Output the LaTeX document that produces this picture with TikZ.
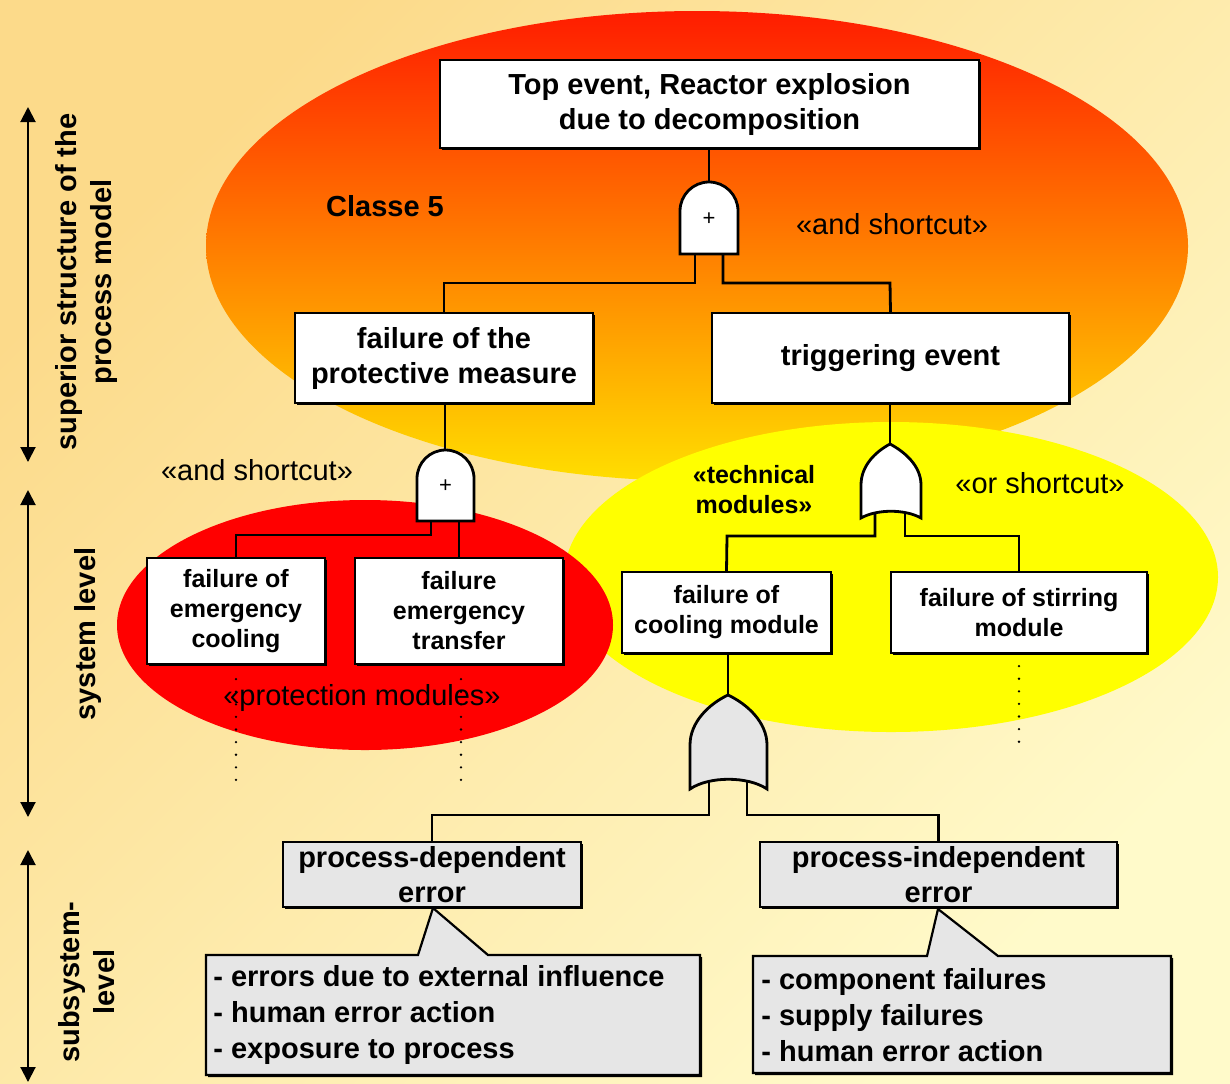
\documentclass[tikz,border=0pt]{standalone}
\usepackage{fontspec}
\setmainfont{Liberation Sans}
\usetikzlibrary{arrows.meta,shadows}

\definecolor{bgA}{RGB}{252,218,138}
\definecolor{bgB}{RGB}{255,250,202}
\definecolor{ovTop}{RGB}{255,28,0}
\definecolor{ovMid}{RGB}{255,125,0}
\definecolor{ovBot}{RGB}{255,222,0}
\definecolor{protRed}{RGB}{255,0,0}
\definecolor{techYellow}{RGB}{255,255,0}
\definecolor{boxGray}{RGB}{230,230,230}

\begin{document}
\begin{tikzpicture}[x=0.5pt,y=-0.5pt,
  bigfont/.style={font=\bfseries\fontsize{14.5pt}{17.5pt}\selectfont},
  listfont/.style={font=\bfseries\fontsize{14.5pt}{18pt}\selectfont},
  smallfont/.style={font=\bfseries\fontsize{12.5pt}{15pt}\selectfont},
  plainfont/.style={font=\fontsize{14.5pt}{17.5pt}\selectfont},
  signfont/.style={font=\fontsize{11pt}{12pt}\selectfont},
  shadowed/.style={drop shadow={shadow xshift=1.1pt,shadow yshift=-1.1pt,fill=black,opacity=1}},
  evbox/.style={draw=black,line width=1.1pt,fill=white,align=center,inner sep=0pt,shadowed},
  errbox/.style={evbox,fill=boxGray},
  gate/.style={draw=black,line width=1.4pt,fill=white},
  wire/.style={draw=black,line width=1.4pt},
  dotline/.style={draw=black,line width=1.3pt,line cap=round,dash pattern=on 0pt off 6.3pt},
  scale arrow/.style={draw=black,line width=1pt,{Triangle[width=7.5pt,length=7.5pt]}-{Triangle[width=7.5pt,length=7.5pt]}},
  stereo/.style={plainfont,inner sep=0pt},
  sidetext/.style={bigfont,rotate=90,align=center,inner sep=0pt}
]
\useasboundingbox (0,0) rectangle (1230,1083);

% background
\shade[shading=axis,top color=bgA,bottom color=bgB,shading angle=45] (0,0) rectangle (1230,1083);

% module regions
\shade[top color=ovTop,middle color=ovMid,bottom color=ovBot] (697,246) ellipse [x radius=245.5pt,y radius=117.5pt];
\fill[techYellow] (891,577) ellipse [x radius=163.5pt,y radius=77.5pt];
\fill[protRed] (365,625) ellipse [x radius=124pt,y radius=62.5pt];

% level scale on the left
\coordinate (s1a) at (28,107);
\coordinate (s1b) at (28,462);
\coordinate (s2a) at (28,490);
\coordinate (s2b) at (28,817);
\coordinate (s3a) at (28,850);
\coordinate (s3b) at (28,1082);
\draw[scale arrow] (s1a) -- (s1b);
\draw[scale arrow] (s2a) -- (s2b);
\draw[scale arrow] (s3a) -- (s3b);
\node[sidetext] (lvl1) at (87,282) {superior structure of the\\process model};
\node[sidetext] (lvl2) at (88,634) {system level};
\node[sidetext] (lvl3) at (87,982) {subsystem-\\level};

% stereotype labels
\node[bigfont,inner sep=0pt] (cls) at (385,206) {Classe 5};
\node[stereo] (andA) at (892,224) {«and shortcut»};
\node[stereo] (andB) at (257,470) {«and shortcut»};
\node[stereo] (orA) at (1040,483) {«or shortcut»};
\node[smallfont,align=center,inner sep=0pt] (tech) at (754,490) {«technical\\modules»};

% events
\node[evbox,bigfont,minimum width=269.5pt,minimum height=44pt] (top) at (709.5,104) {Top event, Reactor explosion\\due to decomposition};
\node[evbox,bigfont,minimum width=149pt,minimum height=45pt] (prot) at (444,358) {failure of the\\protective measure};
\node[evbox,bigfont,minimum width=178.5pt,minimum height=45pt] (trig) at (890.5,358) {triggering event};
\node[evbox,smallfont,minimum width=89pt,minimum height=53pt] (emc) at (236,611) {failure of\\emergency\\cooling};
\node[evbox,smallfont,minimum width=104pt,minimum height=53pt] (emt) at (459,611) {failure\\emergency\\transfer};
\node[evbox,smallfont,minimum width=104.5pt,minimum height=40.5pt] (cool) at (726.5,612.5) {failure of\\cooling module};
\node[evbox,smallfont,minimum width=128pt,minimum height=40.5pt] (stir) at (1019,612.5) {failure of stirring\\module};
\node[errbox,bigfont,minimum width=149pt,minimum height=32.5pt] (pdep) at (432,874.5) {process-dependent\\error};
\node[errbox,bigfont,minimum width=178.5pt,minimum height=32.5pt] (pind) at (938.5,874.5) {process-independent\\error};

% gate terminals
\coordinate (g1in) at (709,182);
\coordinate (g1l) at (695,240);
\coordinate (g1r) at (723,240);
\coordinate (g2in) at (445,450);
\coordinate (g2l) at (431,510);
\coordinate (g2r) at (459,510);
\coordinate (g3in) at (890,444);
\coordinate (g3l) at (875,505);
\coordinate (g3r) at (905,505);
\coordinate (g4in) at (728,695);
\coordinate (g4l) at (709,775);
\coordinate (g4r) at (747,775);

% connectors
\draw[wire] (g1in) -- (g1in |- top.south);
\draw[wire] (g1l) |- (444,283) -- (prot.north);
\draw[wire] (g1r) |- (890,283) -- (trig.north);
\draw[wire] (g2in) -- (g2in |- prot.south);
\draw[wire] (g2l) |- (236,535) -- (emc.north);
\draw[wire] (g2r) -- (g2r |- emt.north);
\draw[wire] (g3in) -- (g3in |- trig.south);
\draw[wire] (g3l) |- (727,536) -- (cool.north);
\draw[wire] (g3r) |- (1019,536) -- (stir.north);
\draw[wire] (g4in) -- (g4in |- cool.south);
\draw[wire] (g4l) |- (432,815) -- (pdep.north);
\draw[wire] (g4r) |- (938.5,815) -- (pind.north);

% gates
\path[gate] (680,254) -- (680,211) arc[start angle=180,end angle=0,radius=14.5pt] -- (738,254) -- cycle;
\node[signfont,inner sep=0pt] (p1) at (709,219) {+};
\path[gate] (417,521) -- (417,478.5) arc[start angle=180,end angle=0,radius=14.25pt] -- (474,521) -- cycle;
\node[signfont,inner sep=0pt] (p2) at (445.5,486) {+};
\path[gate] (861,518) -- (861,485) .. controls (861,466) and (875,452) .. (890,444)
  .. controls (905,452) and (921,466) .. (921,485) -- (921,518)
  .. controls (905,509) and (877,509) .. (861,518) -- cycle;
\path[gate,fill=boxGray] (690,789) -- (690,745) .. controls (690,722) and (709,704) .. (728,695)
  .. controls (747,704) and (767,722) .. (767,745) -- (767,789)
  .. controls (748,776) and (709,776) .. (690,789) -- cycle;

% continuation of the tree below the system modules
\draw[dotline] ([yshift=-7pt]emc.south) -- ++(0,108);
\draw[dotline] ([yshift=-7pt]emt.south -| 461,0) -- ++(0,108);
\draw[dotline] ([yshift=-6pt]stir.south) -- ++(0,80);

\node[stereo] (protlbl) at (362,698) {«protection modules»};

% causes attached to the error types
\path[fill=boxGray,draw=black,line width=1.1pt,shadowed]
  (206,955) -- (418,955) -- (433,908) -- (488,955) -- (700,955) -- (700,1075) -- (206,1075) -- cycle;
\node[listfont,align=left,anchor=west,inner sep=0pt] (causeL) at (213,1015)
  {- errors due to external influence\\- human error action\\- exposure to process};
\path[fill=boxGray,draw=black,line width=1.1pt,shadowed]
  (753,956) -- (927,956) -- (938,909) -- (998,956) -- (1171,956) -- (1171,1073) -- (753,1073) -- cycle;
\node[listfont,align=left,anchor=west,inner sep=0pt] (causeR) at (761,1015)
  {- component failures\\- supply failures\\- human error action};
\end{tikzpicture}
\end{document}
